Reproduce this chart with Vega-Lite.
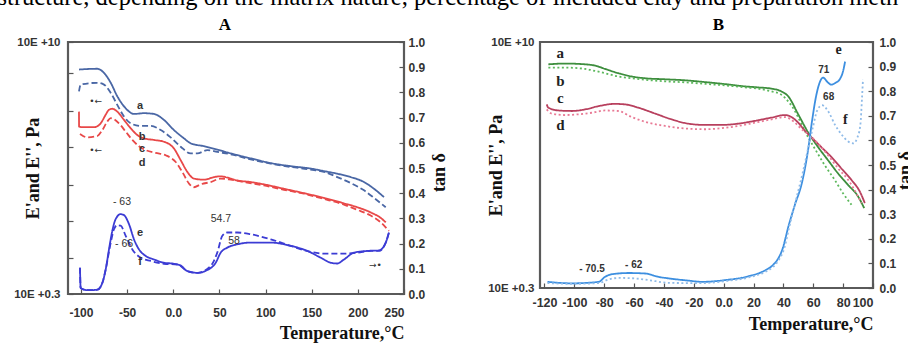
{
  "$schema": "https://vega.github.io/schema/vega-lite/v6.json",
  "background": "white",
  "padding": {"left": -3, "top": -15, "right": 0, "bottom": 0},
  "title": {"text": "structure, depending on the matrix nature, percentage of included clay and preparation meth", "anchor": "start", "frame": "bounds", "dx": -15, "font": "Liberation Serif", "fontSize": 24.5, "fontWeight": "normal", "color": "#000", "baseline": "alphabetic", "offset": -15},
  "spacing": 35,
  "config": {
    "view": {"stroke": "#5a5a5a", "strokeWidth": 2.2},
    "axis": {"grid": false, "domain": false, "labelFont": "Liberation Sans", "labelFontWeight": "bold", "labelFontSize": 12, "labelColor": "#333", "titleFont": "Liberation Serif", "titleFontWeight": "bold", "titleFontSize": 18, "titleColor": "#111", "tickColor": "#555", "tickWidth": 1.2, "tickSize": -5, "labelPadding": 12}
  },
  "datasets": {
    "A_mod": [
      {"curve":"a","T":-102.1,"log10_E":8.94},{"curve":"a","T":-82.3,"log10_E":8.97},{"curve":"a","T":-75.0,"log10_E":8.81},{"curve":"a","T":-67.7,"log10_E":8.43},{"curve":"a","T":-60.6,"log10_E":7.91},{"curve":"a","T":-51.5,"log10_E":7.45},{"curve":"a","T":-42.5,"log10_E":7.23},{"curve":"a","T":-31.7,"log10_E":7.26},{"curve":"a","T":-20.8,"log10_E":7.23},{"curve":"a","T":-10.0,"log10_E":7.00},{"curve":"a","T":0.8,"log10_E":6.61},{"curve":"a","T":11.7,"log10_E":6.29},{"curve":"a","T":18.9,"log10_E":6.10},{"curve":"a","T":33.3,"log10_E":5.99},{"curve":"a","T":47.7,"log10_E":5.86},{"curve":"a","T":62.3,"log10_E":5.71},{"curve":"a","T":83.9,"log10_E":5.52},{"curve":"a","T":105.6,"log10_E":5.34},{"curve":"a","T":127.3,"log10_E":5.22},{"curve":"a","T":148.9,"log10_E":5.13},{"curve":"a","T":163.3,"log10_E":5.03},{"curve":"a","T":177.7,"log10_E":4.93},{"curve":"a","T":192.3,"log10_E":4.80},{"curve":"a","T":206.7,"log10_E":4.61},{"curve":"a","T":217.5,"log10_E":4.35},{"curve":"a","T":228.3,"log10_E":4.03},
      {"curve":"b","T":-102.1,"log10_E":8.10},{"curve":"b","T":-100.3,"log10_E":8.36},{"curve":"b","T":-82.3,"log10_E":8.43},{"curve":"b","T":-75.0,"log10_E":8.36},{"curve":"b","T":-67.7,"log10_E":8.04},{"curve":"b","T":-60.6,"log10_E":7.58},{"curve":"b","T":-53.3,"log10_E":7.13},{"curve":"b","T":-46.1,"log10_E":6.87},{"curve":"b","T":-35.2,"log10_E":6.77},{"curve":"b","T":-24.4,"log10_E":6.77},{"curve":"b","T":-13.6,"log10_E":6.61},{"curve":"b","T":-2.8,"log10_E":6.33},{"curve":"b","T":8.1,"log10_E":5.97},{"curve":"b","T":18.9,"log10_E":5.71},{"curve":"b","T":26.1,"log10_E":5.71},{"curve":"b","T":36.9,"log10_E":5.84},{"curve":"b","T":47.7,"log10_E":5.77},{"curve":"b","T":62.3,"log10_E":5.68},{"curve":"b","T":83.9,"log10_E":5.48},{"curve":"b","T":105.6,"log10_E":5.32},{"curve":"b","T":127.3,"log10_E":5.19},{"curve":"b","T":148.9,"log10_E":5.09},{"curve":"b","T":163.3,"log10_E":5.00},{"curve":"b","T":177.7,"log10_E":4.80},{"curve":"b","T":192.3,"log10_E":4.57},{"curve":"b","T":206.7,"log10_E":4.29},{"curve":"b","T":217.5,"log10_E":4.00},{"curve":"b","T":230.2,"log10_E":3.64},
      {"curve":"c","T":-102.1,"log10_E":7.32},{"curve":"c","T":-102.0,"log10_E":6.74},{"curve":"c","T":-96.7,"log10_E":6.72},{"curve":"c","T":-85.8,"log10_E":6.72},{"curve":"c","T":-78.6,"log10_E":6.87},{"curve":"c","T":-73.2,"log10_E":7.20},{"curve":"c","T":-69.6,"log10_E":7.39},{"curve":"c","T":-66.0,"log10_E":7.43},{"curve":"c","T":-60.6,"log10_E":7.32},{"curve":"c","T":-53.3,"log10_E":7.00},{"curve":"c","T":-46.1,"log10_E":6.68},{"curve":"c","T":-38.9,"log10_E":6.42},{"curve":"c","T":-31.7,"log10_E":6.29},{"curve":"c","T":-20.8,"log10_E":6.23},{"curve":"c","T":-10.0,"log10_E":6.16},{"curve":"c","T":0.8,"log10_E":5.90},{"curve":"c","T":8.1,"log10_E":5.45},{"curve":"c","T":15.3,"log10_E":5.00},{"curve":"c","T":22.5,"log10_E":4.74},{"curve":"c","T":33.3,"log10_E":4.70},{"curve":"c","T":44.2,"log10_E":4.80},{"curve":"c","T":51.4,"log10_E":4.83},{"curve":"c","T":58.6,"log10_E":4.78},{"curve":"c","T":69.4,"log10_E":4.67},{"curve":"c","T":83.9,"log10_E":4.61},{"curve":"c","T":98.3,"log10_E":4.52},{"curve":"c","T":120.0,"log10_E":4.35},{"curve":"c","T":141.7,"log10_E":4.18},{"curve":"c","T":163.3,"log10_E":4.00},{"curve":"c","T":185.0,"log10_E":3.79},{"curve":"c","T":199.4,"log10_E":3.64},{"curve":"c","T":213.9,"log10_E":3.44},{"curve":"c","T":224.7,"log10_E":3.23},{"curve":"c","T":230.2,"log10_E":3.06},
      {"curve":"d","T":-101.0,"log10_E":6.46},{"curve":"d","T":-93.1,"log10_E":6.33},{"curve":"d","T":-82.3,"log10_E":6.38},{"curve":"d","T":-76.8,"log10_E":6.61},{"curve":"d","T":-71.4,"log10_E":6.94},{"curve":"d","T":-67.7,"log10_E":7.07},{"curve":"d","T":-64.2,"log10_E":7.03},{"curve":"d","T":-58.8,"log10_E":6.87},{"curve":"d","T":-51.5,"log10_E":6.55},{"curve":"d","T":-44.3,"log10_E":6.23},{"curve":"d","T":-37.1,"log10_E":5.99},{"curve":"d","T":-29.8,"log10_E":5.84},{"curve":"d","T":-19.0,"log10_E":5.73},{"curve":"d","T":-8.2,"log10_E":5.64},{"curve":"d","T":2.7,"log10_E":5.38},{"curve":"d","T":9.8,"log10_E":5.00},{"curve":"d","T":17.1,"log10_E":4.55},{"curve":"d","T":22.5,"log10_E":4.41},{"curve":"d","T":29.7,"log10_E":4.52},{"curve":"d","T":40.6,"log10_E":4.61},{"curve":"d","T":51.4,"log10_E":4.74},{"curve":"d","T":62.3,"log10_E":4.70},{"curve":"d","T":76.7,"log10_E":4.61},{"curve":"d","T":98.3,"log10_E":4.48},{"curve":"d","T":120.0,"log10_E":4.31},{"curve":"d","T":141.7,"log10_E":4.16},{"curve":"d","T":163.3,"log10_E":3.96},{"curve":"d","T":185.0,"log10_E":3.74},{"curve":"d","T":199.4,"log10_E":3.54},{"curve":"d","T":213.9,"log10_E":3.32},{"curve":"d","T":224.7,"log10_E":3.06},{"curve":"d","T":233.7,"log10_E":2.73}
    ],
    "A_tan": [
      {"curve":"e","T":-101.0,"tan_delta":0.104},{"curve":"e","T":-100.3,"tan_delta":0.024},{"curve":"e","T":-93.1,"tan_delta":0.015},{"curve":"e","T":-82.3,"tan_delta":0.017},{"curve":"e","T":-76.8,"tan_delta":0.044},{"curve":"e","T":-73.2,"tan_delta":0.097},{"curve":"e","T":-69.6,"tan_delta":0.177},{"curve":"e","T":-66.0,"tan_delta":0.251},{"curve":"e","T":-62.4,"tan_delta":0.297},{"curve":"e","T":-56.9,"tan_delta":0.317},{"curve":"e","T":-53.3,"tan_delta":0.313},{"curve":"e","T":-47.9,"tan_delta":0.277},{"curve":"e","T":-42.5,"tan_delta":0.217},{"curve":"e","T":-37.1,"tan_delta":0.177},{"curve":"e","T":-29.8,"tan_delta":0.151},{"curve":"e","T":-20.8,"tan_delta":0.137},{"curve":"e","T":-10.0,"tan_delta":0.124},{"curve":"e","T":0.8,"tan_delta":0.120},{"curve":"e","T":8.1,"tan_delta":0.113},{"curve":"e","T":15.3,"tan_delta":0.091},{"curve":"e","T":26.1,"tan_delta":0.084},{"curve":"e","T":36.9,"tan_delta":0.095},{"curve":"e","T":46.0,"tan_delta":0.124},{"curve":"e","T":51.4,"tan_delta":0.164},{"curve":"e","T":58.6,"tan_delta":0.184},{"curve":"e","T":69.4,"tan_delta":0.197},{"curve":"e","T":83.9,"tan_delta":0.204},{"curve":"e","T":105.6,"tan_delta":0.204},{"curve":"e","T":127.3,"tan_delta":0.191},{"curve":"e","T":145.3,"tan_delta":0.171},{"curve":"e","T":159.8,"tan_delta":0.144},{"curve":"e","T":170.6,"tan_delta":0.124},{"curve":"e","T":177.7,"tan_delta":0.121},{"curve":"e","T":185.0,"tan_delta":0.137},{"curve":"e","T":195.8,"tan_delta":0.164},{"curve":"e","T":210.2,"tan_delta":0.171},{"curve":"e","T":222.9,"tan_delta":0.173},{"curve":"e","T":230.2,"tan_delta":0.204},{"curve":"e","T":233.7,"tan_delta":0.244},
      {"curve":"f","T":-101.0,"tan_delta":0.104},{"curve":"f","T":-100.3,"tan_delta":0.024},{"curve":"f","T":-93.1,"tan_delta":0.015},{"curve":"f","T":-82.3,"tan_delta":0.017},{"curve":"f","T":-76.8,"tan_delta":0.044},{"curve":"f","T":-73.2,"tan_delta":0.097},{"curve":"f","T":-67.7,"tan_delta":0.204},{"curve":"f","T":-64.2,"tan_delta":0.257},{"curve":"f","T":-60.6,"tan_delta":0.273},{"curve":"f","T":-56.9,"tan_delta":0.271},{"curve":"f","T":-51.5,"tan_delta":0.231},{"curve":"f","T":-44.3,"tan_delta":0.177},{"curve":"f","T":-35.2,"tan_delta":0.144},{"curve":"f","T":-24.4,"tan_delta":0.131},{"curve":"f","T":-10.0,"tan_delta":0.120},{"curve":"f","T":4.4,"tan_delta":0.117},{"curve":"f","T":15.3,"tan_delta":0.091},{"curve":"f","T":26.1,"tan_delta":0.084},{"curve":"f","T":40.6,"tan_delta":0.111},{"curve":"f","T":47.7,"tan_delta":0.164},{"curve":"f","T":53.2,"tan_delta":0.231},{"curve":"f","T":58.6,"tan_delta":0.244},{"curve":"f","T":69.4,"tan_delta":0.244},{"curve":"f","T":83.9,"tan_delta":0.237},{"curve":"f","T":105.6,"tan_delta":0.217},{"curve":"f","T":127.3,"tan_delta":0.191},{"curve":"f","T":148.9,"tan_delta":0.167},{"curve":"f","T":163.3,"tan_delta":0.160},{"curve":"f","T":181.3,"tan_delta":0.160},{"curve":"f","T":199.4,"tan_delta":0.164},{"curve":"f","T":213.9,"tan_delta":0.171},{"curve":"f","T":222.9,"tan_delta":0.171},{"curve":"f","T":230.2,"tan_delta":0.204},{"curve":"f","T":233.7,"tan_delta":0.244}
    ],
    "A_mod_lab": [
      {"kind":"letter","label":"a","T":-36,"log10_E":7.55},{"kind":"letter","label":"b","T":-33.7,"log10_E":6.35},{"kind":"letter","label":"c","T":-33.7,"log10_E":5.9},{"kind":"letter","label":"d","T":-33.7,"log10_E":5.36},
      {"kind":"arrow","label":"•←","T":-84,"log10_E":7.72},{"kind":"arrow","label":"•←","T":-84,"log10_E":5.84}
    ],
    "A_tan_lab": [
      {"kind":"letter","label":"e","T":-36,"tan_delta":0.242},{"kind":"letter","label":"f","T":-36,"tan_delta":0.127},
      {"kind":"number","label":"- 63","T":-55.5,"tan_delta":0.365},{"kind":"number","label":"- 66","T":-53.3,"tan_delta":0.198},{"kind":"number","label":"54.7","T":51.7,"tan_delta":0.298},{"kind":"number","label":"58","T":65.8,"tan_delta":0.21},
      {"kind":"arrow","label":"→•","T":219,"tan_delta":0.116}
    ],
    "B_mod": [
      {"curve":"a","T":-117.4,"log10_E":9.12},{"curve":"a","T":-106.2,"log10_E":9.15},{"curve":"a","T":-92.9,"log10_E":9.12},{"curve":"a","T":-86.2,"log10_E":9.07},{"curve":"a","T":-79.5,"log10_E":8.94},{"curve":"a","T":-70.6,"log10_E":8.77},{"curve":"a","T":-61.6,"log10_E":8.64},{"curve":"a","T":-52.7,"log10_E":8.57},{"curve":"a","T":-39.3,"log10_E":8.53},{"curve":"a","T":-25.9,"log10_E":8.49},{"curve":"a","T":-12.6,"log10_E":8.42},{"curve":"a","T":0.8,"log10_E":8.34},{"curve":"a","T":14.2,"log10_E":8.25},{"curve":"a","T":23.1,"log10_E":8.21},{"curve":"a","T":32.1,"log10_E":8.16},{"curve":"a","T":38.7,"log10_E":8.05},{"curve":"a","T":43.2,"log10_E":7.86},{"curve":"a","T":49.9,"log10_E":7.15},{"curve":"a","T":56.6,"log10_E":6.43},{"curve":"a","T":63.3,"log10_E":5.85},{"curve":"a","T":70.0,"log10_E":5.33},{"curve":"a","T":76.7,"log10_E":4.81},{"curve":"a","T":83.4,"log10_E":4.36},{"curve":"a","T":90.0,"log10_E":3.91},{"curve":"a","T":94.1,"log10_E":3.45},
      {"curve":"b","T":-117.4,"log10_E":8.99},{"curve":"b","T":-106.2,"log10_E":8.99},{"curve":"b","T":-92.9,"log10_E":8.94},{"curve":"b","T":-86.2,"log10_E":8.86},{"curve":"b","T":-79.5,"log10_E":8.77},{"curve":"b","T":-70.6,"log10_E":8.64},{"curve":"b","T":-61.6,"log10_E":8.57},{"curve":"b","T":-52.7,"log10_E":8.51},{"curve":"b","T":-39.3,"log10_E":8.45},{"curve":"b","T":-25.9,"log10_E":8.41},{"curve":"b","T":-12.6,"log10_E":8.35},{"curve":"b","T":0.8,"log10_E":8.29},{"curve":"b","T":14.2,"log10_E":8.21},{"curve":"b","T":23.1,"log10_E":8.16},{"curve":"b","T":32.1,"log10_E":8.05},{"curve":"b","T":38.7,"log10_E":7.92},{"curve":"b","T":43.2,"log10_E":7.66},{"curve":"b","T":47.7,"log10_E":7.28},{"curve":"b","T":52.1,"log10_E":6.76},{"curve":"b","T":56.6,"log10_E":6.24},{"curve":"b","T":61.1,"log10_E":5.79},{"curve":"b","T":67.7,"log10_E":5.14},{"curve":"b","T":74.4,"log10_E":4.56},{"curve":"b","T":80.0,"log10_E":4.03},{"curve":"b","T":85.6,"log10_E":3.58},
      {"curve":"c","T":-118.5,"log10_E":7.54},{"curve":"c","T":-117.4,"log10_E":7.41},{"curve":"c","T":-110.7,"log10_E":7.30},{"curve":"c","T":-101.8,"log10_E":7.28},{"curve":"c","T":-92.9,"log10_E":7.34},{"curve":"c","T":-83.9,"log10_E":7.47},{"curve":"c","T":-72.8,"log10_E":7.56},{"curve":"c","T":-66.1,"log10_E":7.54},{"curve":"c","T":-57.2,"log10_E":7.41},{"curve":"c","T":-46.0,"log10_E":7.18},{"curve":"c","T":-34.9,"log10_E":6.95},{"curve":"c","T":-23.7,"log10_E":6.78},{"curve":"c","T":-12.6,"log10_E":6.73},{"curve":"c","T":-1.4,"log10_E":6.73},{"curve":"c","T":9.7,"log10_E":6.78},{"curve":"c","T":20.9,"log10_E":6.89},{"curve":"c","T":32.1,"log10_E":7.02},{"curve":"c","T":41.0,"log10_E":7.12},{"curve":"c","T":45.4,"log10_E":7.04},{"curve":"c","T":49.9,"log10_E":6.82},{"curve":"c","T":54.4,"log10_E":6.50},{"curve":"c","T":58.8,"log10_E":6.24},{"curve":"c","T":65.5,"log10_E":5.85},{"curve":"c","T":72.2,"log10_E":5.46},{"curve":"c","T":78.9,"log10_E":5.01},{"curve":"c","T":85.6,"log10_E":4.56},{"curve":"c","T":91.2,"log10_E":4.10},{"curve":"c","T":94.5,"log10_E":3.65},
      {"curve":"d","T":-118.5,"log10_E":7.34},{"curve":"d","T":-115.2,"log10_E":7.18},{"curve":"d","T":-106.2,"log10_E":7.12},{"curve":"d","T":-97.3,"log10_E":7.15},{"curve":"d","T":-88.4,"log10_E":7.21},{"curve":"d","T":-79.5,"log10_E":7.30},{"curve":"d","T":-70.6,"log10_E":7.28},{"curve":"d","T":-61.6,"log10_E":7.04},{"curve":"d","T":-50.5,"log10_E":6.82},{"curve":"d","T":-39.3,"log10_E":6.69},{"curve":"d","T":-28.2,"log10_E":6.60},{"curve":"d","T":-12.6,"log10_E":6.56},{"curve":"d","T":-1.4,"log10_E":6.60},{"curve":"d","T":9.7,"log10_E":6.69},{"curve":"d","T":20.9,"log10_E":6.82},{"curve":"d","T":32.1,"log10_E":6.95},{"curve":"d","T":41.0,"log10_E":7.04},{"curve":"d","T":47.7,"log10_E":6.82},{"curve":"d","T":52.1,"log10_E":6.56},{"curve":"d","T":56.6,"log10_E":6.37},{"curve":"d","T":63.3,"log10_E":5.98},{"curve":"d","T":70.0,"log10_E":5.53},{"curve":"d","T":76.7,"log10_E":5.01},{"curve":"d","T":83.4,"log10_E":4.56},{"curve":"d","T":88.9,"log10_E":4.03},{"curve":"d","T":92.3,"log10_E":3.65}
    ],
    "B_tan": [
      {"curve":"e","T":-118,"tan_delta":0.025},{"curve":"e","T":-101.6,"tan_delta":0.019},{"curve":"e","T":-83.7,"tan_delta":0.025},{"curve":"e","T":-79.5,"tan_delta":0.045},{"curve":"e","T":-74.8,"tan_delta":0.056},{"curve":"e","T":-63.6,"tan_delta":0.061},{"curve":"e","T":-52.7,"tan_delta":0.059},{"curve":"e","T":-43.5,"tan_delta":0.045},{"curve":"e","T":-36.8,"tan_delta":0.039},{"curve":"e","T":-23.4,"tan_delta":0.030},{"curve":"e","T":-14.5,"tan_delta":0.025},{"curve":"e","T":0.9,"tan_delta":0.032},{"curve":"e","T":16.8,"tan_delta":0.048},{"curve":"e","T":27.9,"tan_delta":0.072},{"curve":"e","T":32.4,"tan_delta":0.09},{"curve":"e","T":36.0,"tan_delta":0.115},{"curve":"e","T":39.1,"tan_delta":0.153},{"curve":"e","T":43.8,"tan_delta":0.26},{"curve":"e","T":47.8,"tan_delta":0.34},{"curve":"e","T":52.5,"tan_delta":0.43},{"curve":"e","T":56.5,"tan_delta":0.56},{"curve":"e","T":59.2,"tan_delta":0.68},{"curve":"e","T":61.9,"tan_delta":0.78},{"curve":"e","T":64.6,"tan_delta":0.84},{"curve":"e","T":66.5,"tan_delta":0.855},{"curve":"e","T":69.9,"tan_delta":0.835},{"curve":"e","T":71.9,"tan_delta":0.827},{"curve":"e","T":75.2,"tan_delta":0.835},{"curve":"e","T":77.9,"tan_delta":0.85},{"curve":"e","T":79.9,"tan_delta":0.88},{"curve":"e","T":81.3,"tan_delta":0.92},
      {"curve":"f","T":-118,"tan_delta":0.02},{"curve":"f","T":-101.6,"tan_delta":0.017},{"curve":"f","T":-83.7,"tan_delta":0.02},{"curve":"f","T":-77,"tan_delta":0.035},{"curve":"f","T":-70.3,"tan_delta":0.041},{"curve":"f","T":-59.4,"tan_delta":0.039},{"curve":"f","T":-50.2,"tan_delta":0.032},{"curve":"f","T":-36.8,"tan_delta":0.021},{"curve":"f","T":-23.4,"tan_delta":0.02},{"curve":"f","T":-14.5,"tan_delta":0.02},{"curve":"f","T":0.9,"tan_delta":0.028},{"curve":"f","T":16.8,"tan_delta":0.043},{"curve":"f","T":27.9,"tan_delta":0.066},{"curve":"f","T":33,"tan_delta":0.085},{"curve":"f","T":37,"tan_delta":0.115},{"curve":"f","T":40.5,"tan_delta":0.16},{"curve":"f","T":44,"tan_delta":0.25},{"curve":"f","T":48.5,"tan_delta":0.36},{"curve":"f","T":53,"tan_delta":0.47},{"curve":"f","T":57,"tan_delta":0.58},{"curve":"f","T":60,"tan_delta":0.66},{"curve":"f","T":62.5,"tan_delta":0.72},{"curve":"f","T":65.9,"tan_delta":0.743},{"curve":"f","T":70.3,"tan_delta":0.715},{"curve":"f","T":74.6,"tan_delta":0.663},{"curve":"f","T":79.2,"tan_delta":0.622},{"curve":"f","T":83.7,"tan_delta":0.594},{"curve":"f","T":87,"tan_delta":0.588},{"curve":"f","T":89.3,"tan_delta":0.608},{"curve":"f","T":91.5,"tan_delta":0.661},{"curve":"f","T":92.6,"tan_delta":0.768},{"curve":"f","T":93.3,"tan_delta":0.849}
    ],
    "B_mod_lab": [
      {"label":"a","T":-109.4,"log10_E":9.57},{"label":"b","T":-109.4,"log10_E":8.47},{"label":"c","T":-109.4,"log10_E":7.78},{"label":"d","T":-109.4,"log10_E":6.72}
    ],
    "B_tan_lab": [
      {"kind":"letter","label":"e","T":77,"tan_delta":0.969},{"kind":"letter","label":"f","T":81.5,"tan_delta":0.681},
      {"kind":"number","label":"71","T":67,"tan_delta":0.886},{"kind":"number","label":"68","T":70.3,"tan_delta":0.775},{"kind":"number","label":"- 70.5","T":-88.2,"tan_delta":0.079},{"kind":"number","label":"- 62","T":-60.3,"tan_delta":0.095}
    ]
  },
  "hconcat": [
    {
      "width": 336, "height": 252,
      "title": {"text": "A", "font": "Liberation Serif", "fontSize": 17, "fontWeight": "bold", "baseline": "alphabetic", "offset": -11, "dx": -11, "anchor": "middle", "color": "#000"},
      "encoding": {
        "x": {"field": "T", "type": "quantitative", "scale": {"domain": [-114, 250], "nice": false, "zero": false},
              "axis": {"title": "Temperature,°C", "values": [-100, -50, 0, 50, 100, 150, 200, 250], "labelExpr": "datum.value === 0 ? '0.0' : '' + datum.value", "labelPadding": 18, "titleAnchor": "end", "titlePadding": 6}}
      },
      "layer": [
        {
          "encoding": {
            "y": {"field": "log10_E", "type": "quantitative", "scale": {"domain": [0.3, 10], "nice": false, "zero": false},
                  "axis": {"orient": "left", "title": "E'and E'', Pa", "values": [0.3, 1.7, 3.1, 4.5, 5.95, 7.35, 8.8, 10], "labelExpr": "datum.value == 10 ? '10E +10' : (datum.value == 0.3 ? '10E +0.3' : '')", "labelFontSize": 11.5, "labelPadding": 13, "titleX": -35, "titleY": 126, "titleBaseline": "middle", "titleAngle": -90}}
          },
          "layer": [
            {"data": {"name": "A_mod"}, "mark": {"type": "line", "strokeWidth": 1.8, "interpolate": "monotone"},
             "encoding": {
               "color": {"field": "curve", "type": "nominal", "scale": {"domain": ["a", "b", "c", "d"], "range": ["#4a67a5", "#4a67a5", "#e84848", "#e84848"]}, "legend": null},
               "strokeDash": {"field": "curve", "type": "nominal", "scale": {"domain": ["a", "b", "c", "d"], "range": [[1, 0], [6, 3], [1, 0], [6, 3]]}, "legend": null}
             }},
            {"data": {"name": "A_mod_lab"}, "transform": [{"filter": "datum.kind == 'letter'"}],
             "mark": {"type": "text", "font": "Liberation Sans", "fontWeight": "bold", "fontSize": 11, "color": "#333"},
             "encoding": {"text": {"field": "label"}}},
            {"data": {"name": "A_mod_lab"}, "transform": [{"filter": "datum.kind == 'arrow'"}],
             "mark": {"type": "text", "font": "DejaVu Sans", "fontSize": 9, "color": "#333"},
             "encoding": {"text": {"field": "label"}}}
          ]
        },
        {
          "encoding": {
            "y": {"field": "tan_delta", "type": "quantitative", "scale": {"domain": [0, 1], "nice": false, "zero": false},
                  "axis": {"orient": "right", "title": "tan δ", "values": [0, 0.1, 0.2, 0.3, 0.4, 0.5, 0.6, 0.7, 0.8, 0.9, 1], "format": ".1f", "labelPadding": 9, "titleX": 35, "titleY": 130, "titleBaseline": "middle", "titleAngle": -90}}
          },
          "layer": [
            {"data": {"name": "A_tan"}, "mark": {"type": "line", "strokeWidth": 1.8, "interpolate": "monotone"},
             "encoding": {
               "color": {"field": "curve", "type": "nominal", "scale": {"domain": ["e", "f"], "range": ["#3c3cd4", "#3c3cd4"]}, "legend": null},
               "strokeDash": {"field": "curve", "type": "nominal", "scale": {"domain": ["e", "f"], "range": [[1, 0], [6, 3]]}, "legend": null}
             }},
            {"data": {"name": "A_tan_lab"}, "transform": [{"filter": "datum.kind == 'letter'"}],
             "mark": {"type": "text", "font": "Liberation Sans", "fontWeight": "bold", "fontSize": 11, "color": "#333"},
             "encoding": {"text": {"field": "label"}}},
            {"data": {"name": "A_tan_lab"}, "transform": [{"filter": "datum.kind == 'number'"}],
             "mark": {"type": "text", "font": "Liberation Sans", "fontSize": 10.5, "color": "#333"},
             "encoding": {"text": {"field": "label"}}},
            {"data": {"name": "A_tan_lab"}, "transform": [{"filter": "datum.kind == 'arrow'"}],
             "mark": {"type": "text", "font": "DejaVu Sans", "fontSize": 9, "color": "#333"},
             "encoding": {"text": {"field": "label"}}}
          ]
        }
      ],
      "resolve": {"scale": {"y": "independent", "color": "independent", "strokeDash": "independent"}}
    },
    {
      "width": 333, "height": 246,
      "title": {"text": "B", "font": "Liberation Serif", "fontSize": 17, "fontWeight": "bold", "baseline": "alphabetic", "offset": -11, "dx": 12, "anchor": "middle", "color": "#000"},
      "encoding": {
        "x": {"field": "T", "type": "quantitative", "scale": {"domain": [-123, 100], "nice": false, "zero": false},
              "axis": {"title": "Temperature,°C", "values": [-120, -100, -80, -60, -40, -20, 0, 20, 40, 60, 80, 100], "labelExpr": "datum.value === 0 ? '0.0' : '' + datum.value", "labelFontSize": 12.5, "labelPadding": 13.5, "titleAnchor": "end", "titlePadding": 6}}
      },
      "layer": [
        {
          "encoding": {
            "y": {"field": "log10_E", "type": "quantitative", "scale": {"domain": [0.3, 10], "nice": false, "zero": false},
                  "axis": {"orient": "left", "title": "E'and E'', Pa", "values": [0.3, 10], "ticks": false, "labelPadding": 6, "labelExpr": "datum.value == 10 ? '10E +10' : '10E +0.3'", "labelFontSize": 11.5, "titleX": -44, "titleY": 123, "titleBaseline": "middle", "titleAngle": -90}}
          },
          "layer": [
            {"data": {"name": "B_mod"}, "mark": {"type": "line", "strokeWidth": 1.8, "interpolate": "monotone"},
             "encoding": {
               "color": {"field": "curve", "type": "nominal", "scale": {"domain": ["a", "b", "c", "d"], "range": ["#3e8e3e", "#5cb85c", "#b8405e", "#e87a95"]}, "legend": null},
               "strokeDash": {"field": "curve", "type": "nominal", "scale": {"domain": ["a", "b", "c", "d"], "range": [[1, 0], [2, 2.5], [1, 0], [2, 2.5]]}, "legend": null}
             }},
            {"data": {"name": "B_mod_lab"},
             "mark": {"type": "text", "font": "Liberation Serif", "fontWeight": "bold", "fontSize": 15, "color": "#222"},
             "encoding": {"text": {"field": "label"}}}
          ]
        },
        {
          "encoding": {
            "y": {"field": "tan_delta", "type": "quantitative", "scale": {"domain": [0, 1], "nice": false, "zero": false},
                  "axis": {"orient": "right", "title": "tan δ", "values": [0, 0.1, 0.2, 0.3, 0.4, 0.5, 0.6, 0.7, 0.8, 0.9, 1], "format": ".1f", "labelPadding": 11, "titleX": 32, "titleY": 128, "titleBaseline": "middle", "titleAngle": -90}}
          },
          "layer": [
            {"data": {"name": "B_tan"}, "mark": {"type": "line", "strokeWidth": 1.8, "interpolate": "monotone"},
             "encoding": {
               "color": {"field": "curve", "type": "nominal", "scale": {"domain": ["e", "f"], "range": ["#3d8fe0", "#8fbbe8"]}, "legend": null},
               "strokeDash": {"field": "curve", "type": "nominal", "scale": {"domain": ["e", "f"], "range": [[1, 0], [2, 2.5]]}, "legend": null}
             }},
            {"data": {"name": "B_tan_lab"}, "transform": [{"filter": "datum.kind == 'letter'"}],
             "mark": {"type": "text", "font": "Liberation Serif", "fontWeight": "bold", "fontSize": 14, "color": "#222"},
             "encoding": {"text": {"field": "label"}}},
            {"data": {"name": "B_tan_lab"}, "transform": [{"filter": "datum.kind == 'number'"}],
             "mark": {"type": "text", "font": "Liberation Sans", "fontWeight": "bold", "fontSize": 10, "color": "#333"},
             "encoding": {"text": {"field": "label"}}}
          ]
        }
      ],
      "resolve": {"scale": {"y": "independent", "color": "independent", "strokeDash": "independent"}}
    }
  ]
}
